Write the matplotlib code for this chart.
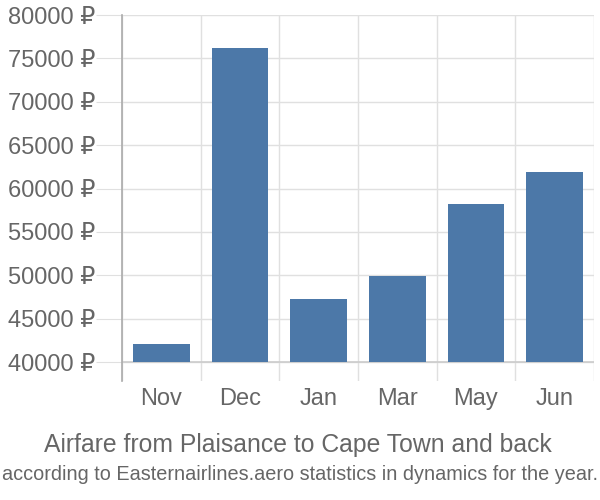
import matplotlib
matplotlib.use('Agg')
import matplotlib.pyplot as plt
from matplotlib.ticker import FuncFormatter

plt.rcParams['font.family'] = ['Liberation Sans', 'DejaVu Sans']

months = ['Nov', 'Dec', 'Jan', 'Mar', 'May', 'Jun']
prices = [42100, 76200, 47300, 49900, 58200, 61900]
y_ticks = [40000, 45000, 50000, 55000, 60000, 65000, 70000, 75000, 80000]

bar_color = '#4c78a8'
text_color = '#666666'
grid_color = '#e0e0e0'

fig = plt.figure(figsize=(6, 5), dpi=100)
ax = fig.add_axes([0.2033, 0.238, 0.7867, 0.732])

base = 40000
x = list(range(len(months)))
ax.bar(x, [p - base for p in prices], bottom=base, width=0.72, color=bar_color, zorder=3)

ax.set_xlim(-0.5, len(months) - 0.5)
ax.set_ylim(37810, 80000)
ax.set_yticks(y_ticks)
ax.yaxis.set_major_formatter(FuncFormatter(lambda v, p: f'{int(v)} ₽'))
ax.set_xticks(x)
ax.set_xticklabels(months)
ax.set_xticks([i - 0.5 for i in range(len(months) + 1)], minor=True)

ax.grid(axis='y', which='major', color=grid_color, linewidth=1, zorder=0)
ax.grid(axis='x', which='minor', color=grid_color, linewidth=1, zorder=0)
ax.axhline(base, color='#cccccc', linewidth=1.2, zorder=2)

for s in ['top', 'right', 'bottom']:
    ax.spines[s].set_visible(False)
ax.spines['left'].set_color('#aaaaaa')
ax.spines['left'].set_linewidth(1.2)

ax.tick_params(axis='y', which='major', length=19, color=grid_color, labelsize=17,
               labelcolor=text_color, pad=0)
ax.tick_params(axis='x', which='major', length=0, labelsize=17, labelcolor=text_color, pad=5)
ax.tick_params(axis='x', which='minor', length=0)

fig.text(0.497, 0.11, 'Airfare from Plaisance to Cape Town and back', ha='center', va='center',
         fontsize=17.8, color=text_color)
fig.text(0.5, 0.052, 'according to Easternairlines.aero statistics in dynamics for the year.',
         ha='center', va='center', fontsize=14.3, color=text_color)

fig.savefig('out.png', dpi=100)
